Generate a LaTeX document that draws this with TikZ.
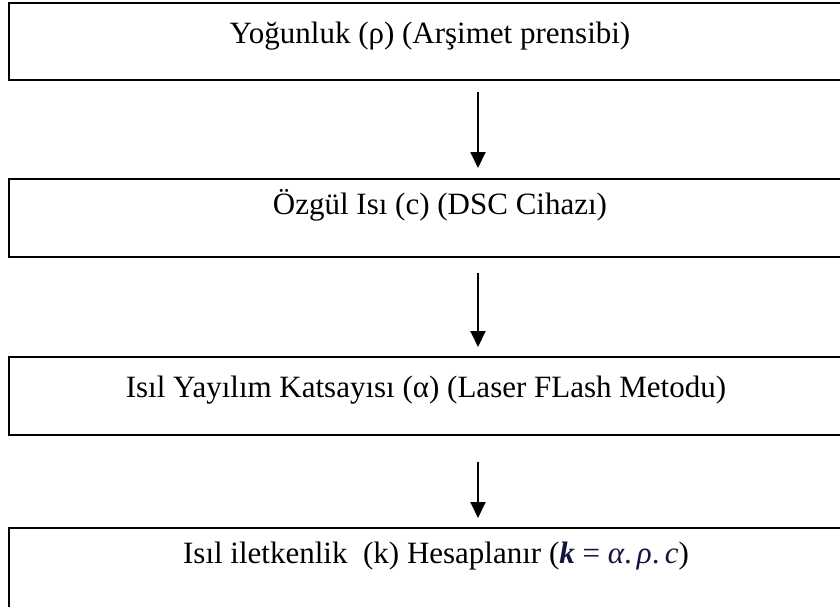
\documentclass[tikz,border=0pt]{standalone}
\usepackage{fontspec}
\setmainfont{Liberation Serif}
\usetikzlibrary{arrows.meta}
\definecolor{formula}{rgb}{0.08,0.08,0.25}
\tikzset{
  px/.style={x=1pt,y=-1pt},
  stagebox/.style={draw=black,line width=2pt,fill=white},
  stagetext/.style={font=\fontsize{31}{35}\selectfont,inner sep=0pt,anchor=base},
  flowarrow/.style={line width=2pt,-{Triangle[length=16pt,width=15pt]}}
}
\begin{document}
\begin{tikzpicture}[px]
\useasboundingbox (0,0) rectangle (840,607);
\begin{scope}
\clip (0,0) rectangle (840,607);
% stage boxes (they run past the right edge of the sheet)
\draw[stagebox] (9,3) rectangle (950,80);
\draw[stagebox] (9,179) rectangle (950,257);
\draw[stagebox] (9,357) rectangle (950,435);
\draw[stagebox] (9,528) rectangle (950,640);
\end{scope}
% labels
\node[stagetext] (s1) at (430,44) {Yoğunluk (ρ) (Arşimet prensibi)};
\node[stagetext] (s2) at (440,214) {Özgül Isı (c) (DSC Cihazı)};
\node[stagetext] (s3) at (426,397) {Isıl Yayılım Katsayısı (α) (Laser FLash Metodu)};
\node[stagetext] (s4) at (436,563) {Isıl iletkenlik\ \ (k) Hesaplanır (\textcolor{formula}{\textbf{\textit{k}} = \textit{α}.\,\textit{ρ}.\,\textit{c}})};
% connectors
\coordinate (a1s) at (478,92);  \coordinate (a1e) at (478,168);
\coordinate (a2s) at (478,273); \coordinate (a2e) at (478,347);
\coordinate (a3s) at (478,462); \coordinate (a3e) at (478,518);
\draw[flowarrow] (a1s) -- (a1e);
\draw[flowarrow] (a2s) -- (a2e);
\draw[flowarrow] (a3s) -- (a3e);
\end{tikzpicture}
\end{document}
